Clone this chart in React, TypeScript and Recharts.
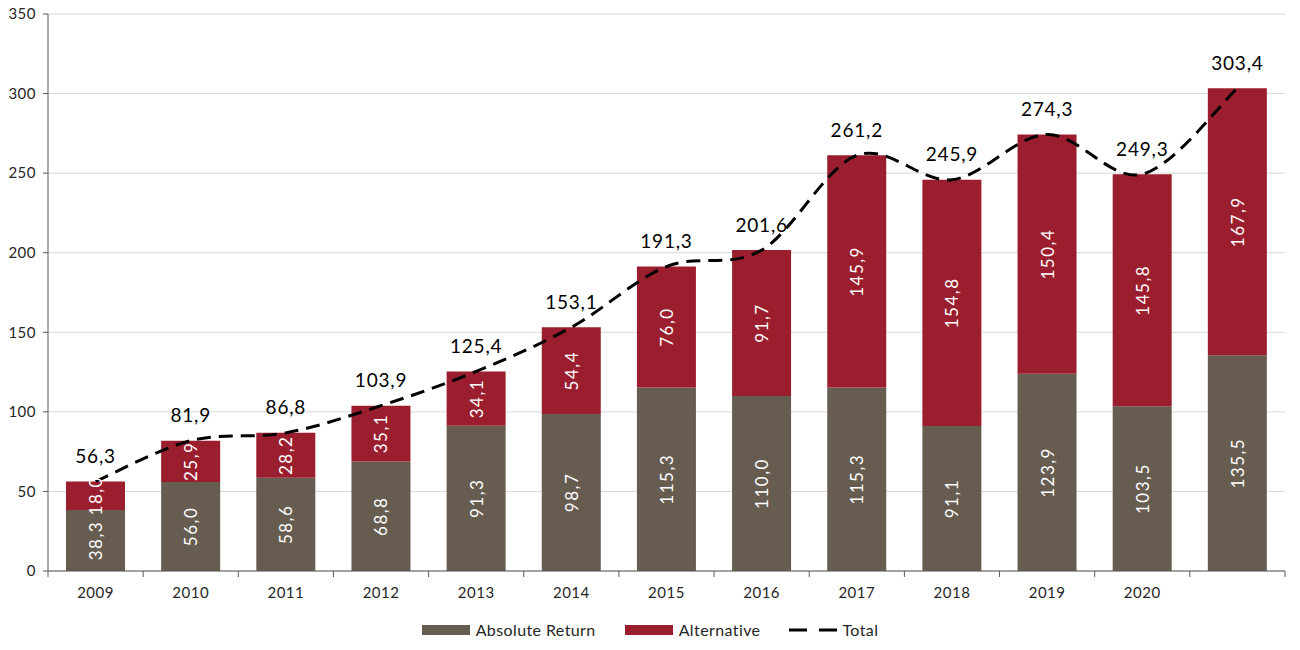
import {
  ComposedChart,
  Bar,
  Line,
  XAxis,
  YAxis,
  CartesianGrid,
  Legend,
  LabelList,
} from "recharts";

const years = ["2009", "2010", "2011", "2012", "2013", "2014", "2015", "2016", "2017", "2018", "2019", "2020", ""];
const absoluteReturn = [38.3, 56.0, 58.6, 68.8, 91.3, 98.7, 115.3, 110.0, 115.3, 91.1, 123.9, 103.5, 135.5];
const alternative = [18.0, 25.9, 28.2, 35.1, 34.1, 54.4, 76.0, 91.7, 145.9, 154.8, 150.4, 145.8, 167.9];
const total = [56.3, 81.9, 86.8, 103.9, 125.4, 153.1, 191.3, 201.6, 261.2, 245.9, 274.3, 249.3, 303.4];
const yTicks = [0, 50, 100, 150, 200, 250, 300, 350];

const data = years.map((year, i) => ({
  year,
  abs: absoluteReturn[i],
  alt: alternative[i],
  total: total[i],
}));

const BROWN = "#665c50";
const RED = "#9b1e2e";
const AXIS = "#595959";
const FONT = "Lato, 'Open Sans', sans-serif";

const W = 1300;
const H = 650;
const M = { top: 14, right: 15, left: 0, bottom: 41 };
const Y_W = 48;
const BAND = (W - M.left - M.right - Y_W) / years.length;

const fmt = (v: any) => Number(v).toFixed(1).replace(".", ",");

// Excel-style smoothed line (Catmull-Rom through the points)
const smoothCurve = (context: any) => {
  let pts: [number, number][] = [];
  return {
    areaStart() {},
    areaEnd() {},
    lineStart() {
      pts = [];
    },
    point(x: number, y: number) {
      pts.push([+x, +y]);
    },
    lineEnd() {
      if (!pts.length) return;
      context.moveTo(pts[0][0], pts[0][1]);
      const t = 1 / 6;
      for (let i = 0; i < pts.length - 1; i++) {
        const p0 = pts[Math.max(0, i - 1)];
        const p1 = pts[i];
        const p2 = pts[i + 1];
        const p3 = pts[Math.min(pts.length - 1, i + 2)];
        context.bezierCurveTo(
          p1[0] + (p2[0] - p0[0]) * t,
          p1[1] + (p2[1] - p0[1]) * t,
          p2[0] - (p3[0] - p1[0]) * t,
          p2[1] - (p3[1] - p1[1]) * t,
          p2[0],
          p2[1]
        );
      }
    },
  };
};

const XTick = (props: any) => {
  const { x, y, payload, index } = props;
  const left = x - BAND / 2;
  return (
    <g>
      <line x1={left} y1={y} x2={left} y2={y + 6} stroke={AXIS} />
      {index === years.length - 1 && (
        <line x1={x + BAND / 2} y1={y} x2={x + BAND / 2} y2={y + 6} stroke={AXIS} />
      )}
      <text
        x={x}
        y={y + 21}
        textAnchor="middle"
        dominantBaseline="central"
        fontSize={15}
        fill="#262626"
        fontFamily={FONT}
        letterSpacing={0.5}
      >
        {payload.value}
      </text>
    </g>
  );
};

const InBarLabel = (props: any) => {
  const { x, y, width, height, value } = props;
  const cx = x + width / 2;
  const cy = y + height / 2;
  return (
    <text
      x={cx}
      y={cy}
      transform={`rotate(-90 ${cx} ${cy})`}
      textAnchor="middle"
      dominantBaseline="central"
      fontSize={17}
      fill="#ffffff"
      fontFamily={FONT}
      letterSpacing={1.5}
    >
      {fmt(value)}
    </text>
  );
};

const TotalLabel = (props: any) => {
  const { x, y, value } = props;
  return (
    <text
      x={x}
      y={y - 26}
      textAnchor="middle"
      dominantBaseline="central"
      fontSize={19}
      fill="#000000"
      fontFamily={FONT}
      letterSpacing={0.8}
    >
      {fmt(value)}
    </text>
  );
};

const LegendContent = () => (
  <div
    style={{
      display: "flex",
      justifyContent: "center",
      alignItems: "center",
      gap: 29,
      fontFamily: FONT,
      fontSize: 16,
      letterSpacing: 0.4,
      color: "#262626",
    }}
  >
    <div style={{ display: "flex", alignItems: "center", gap: 6 }}>
      <span style={{ width: 48, height: 10, background: BROWN, display: "inline-block" }} />
      <span>Absolute Return</span>
    </div>
    <div style={{ display: "flex", alignItems: "center", gap: 6 }}>
      <span style={{ width: 48, height: 10, background: RED, display: "inline-block" }} />
      <span>Alternative</span>
    </div>
    <div style={{ display: "flex", alignItems: "center", gap: 5 }}>
      <svg width={48} height={10}>
        <line x1={0} y1={5} x2={48} y2={5} stroke="#000" strokeWidth={3} strokeDasharray="18 12" />
      </svg>
      <span>Total</span>
    </div>
  </div>
);

export default function App() {
  return (
    <div style={{ position: "absolute", left: 0, top: 0, width: W, height: H, background: "#fff" }}>
      <ComposedChart width={W} height={H} data={data} margin={M}>
        <CartesianGrid vertical={false} stroke="#d9d9d9" />
        <XAxis
          dataKey="year"
          interval={0}
          tickLine={false}
          tickSize={0}
          tickMargin={0}
          axisLine={{ stroke: AXIS }}
          tick={<XTick />}
          height={38}
        />
        <YAxis
          width={Y_W}
          domain={[0, 350]}
          ticks={yTicks}
          allowDataOverflow
          axisLine={{ stroke: AXIS }}
          tickLine={{ stroke: AXIS }}
          tickSize={5}
          tickMargin={7}
          tick={{ fontSize: 15, fill: "#262626", fontFamily: FONT, letterSpacing: 0.5 }}
        />
        <Legend
          verticalAlign="middle"
          align="center"
          content={<LegendContent />}
          wrapperStyle={{ top: 620, left: 0, width: W }}
        />
        <Bar dataKey="abs" name="Absolute Return" stackId="s" fill={BROWN} barSize={59} isAnimationActive={false}>
          <LabelList dataKey="abs" content={<InBarLabel />} />
        </Bar>
        <Bar dataKey="alt" name="Alternative" stackId="s" fill={RED} barSize={59} isAnimationActive={false}>
          <LabelList dataKey="alt" content={<InBarLabel />} />
        </Bar>
        <Line
          dataKey="total"
          name="Total"
          type={smoothCurve as any}
          stroke="#000"
          strokeWidth={3}
          strokeDasharray="14 8"
          dot={false}
          activeDot={false}
          isAnimationActive={false}
        >
          <LabelList dataKey="total" content={<TotalLabel />} />
        </Line>
      </ComposedChart>
    </div>
  );
}
